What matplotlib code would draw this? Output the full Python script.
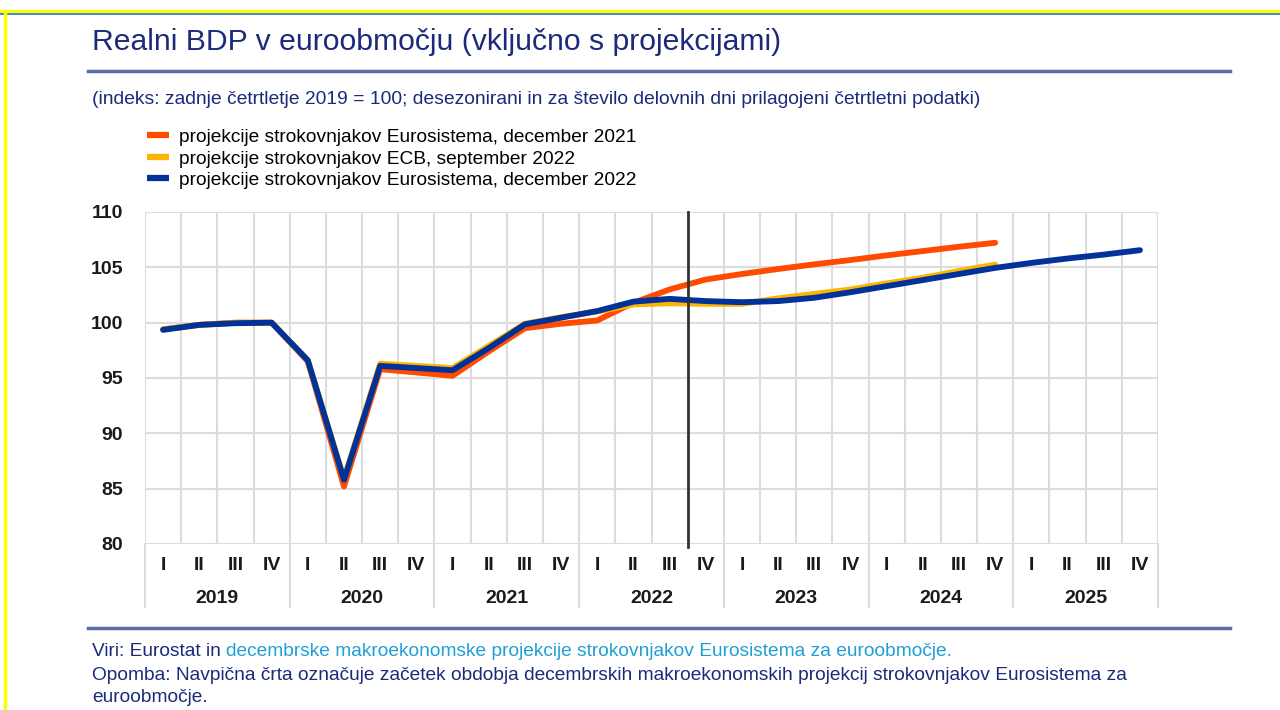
import matplotlib.pyplot as plt
from matplotlib.lines import Line2D

plt.rcParams['font.family'] = ['Liberation Sans', 'DejaVu Sans']

# data: index, zadnje cetrtletje 2019 = 100
years = ['2019', '2020', '2021', '2022', '2023', '2024', '2025']
quarters = ['I', 'II', 'III', 'IV']

dec2021 = [99.4, 99.8, 100.0, 100.0, 96.5, 85.2, 95.8, 95.5, 95.2, 97.4, 99.5, 99.9,
           100.2, 101.8, 103.0, 103.9, 104.4, 104.85, 105.27, 105.66, 106.08, 106.47,
           106.86, 107.22]
sep2022 = [99.4, 99.8, 100.0, 100.0, 96.6, 85.9, 96.3, 96.1, 95.9, 97.9, 99.9, 100.5,
           101.0, 101.65, 101.75, 101.7, 101.7, 102.2, 102.6, 103.0, 103.55, 104.06,
           104.67, 105.25]
dec2022 = [99.35, 99.8, 99.95, 100.0, 96.6, 85.8, 96.1, 95.9, 95.7, 97.7, 99.85, 100.45,
           101.05, 101.9, 102.15, 101.95, 101.85, 101.95, 102.25, 102.75, 103.3, 103.85,
           104.4, 104.95, 105.4, 105.8, 106.15, 106.55]

labels = ['projekcije strokovnjakov Eurosistema, december 2021',
          'projekcije strokovnjakov ECB, september 2022',
          'projekcije strokovnjakov Eurosistema, december 2022']
colors = ['#ff4b00', '#ffb400', '#003299']

navy = '#1b2a7b'
rule = '#5b6ea8'
txt = 13.75

fig = plt.figure(figsize=(12.8, 7.1), dpi=100)
W, H = 1280, 710

def fx(px):
    return px / W

def fy(py):
    return 1 - py / H

# frame
fig.add_artist(Line2D([0, 1], [fy(11), fy(11)], color='#ffff00', lw=2.5))
fig.add_artist(Line2D([0, 1], [fy(14), fy(14)], color='#1e78c8', lw=1.2))
fig.add_artist(Line2D([fx(5), fx(5)], [0, fy(11)], color='#ffff00', lw=2.5))

fig.text(fx(92), fy(42), 'Realni BDP v euroobmočju (vključno s projekcijami)',
         fontsize=21.7, color=navy, va='center')
fig.add_artist(Line2D([fx(88), fx(1230)], [fy(71), fy(71)], color=rule, lw=2.5))
fig.text(fx(92), fy(99),
         '(indeks: zadnje četrtletje 2019 = 100; desezonirani in za število delovnih dni prilagojeni četrtletni podatki)',
         fontsize=13.9, color=navy, va='center')

ax = fig.add_axes([fx(145), fy(544), fx(1158 - 145), (544 - 212) / H])
n = len(years) * 4
x = list(range(n))
for vals, c, lab in zip([dec2021, sep2022, dec2022], colors, labels):
    ax.plot(x[:len(vals)], vals, color=c, lw=4.2, solid_capstyle='round',
            solid_joinstyle='round', label=lab)

ax.axvline(14.5, ymin=-0.01, ymax=1, color='#333333', lw=2, clip_on=False)

ax.set_xlim(-0.5, n - 0.5)
ax.set_ylim(80, 110)
ax.set_yticks(range(80, 111, 5))
ax.set_xticks([i + 0.5 for i in range(-1, n)])
ax.set_xticklabels([])
ax.grid(True, color='#dcdcdc', lw=1.5)
ax.set_axisbelow(True)
for s in ax.spines.values():
    s.set_visible(False)
ax.tick_params(axis='both', length=0, labelsize=14, pad=0, labelcolor='#1a1a1a')
ax.tick_params(axis='y', pad=16)
for t in ax.get_yticklabels():
    t.set_fontweight('bold')

for i in range(n):
    ax.text(i, -0.064, quarters[i % 4], transform=ax.get_xaxis_transform(),
            ha='center', va='center', fontsize=14, fontweight='bold', color='#1a1a1a')
for j, yr in enumerate(years):
    ax.text(j * 4 + 1.5, -0.163, yr, transform=ax.get_xaxis_transform(),
            ha='center', va='center', fontsize=14, fontweight='bold', color='#1a1a1a')
for j in range(len(years) + 1):
    ax.plot([j * 4 - 0.5] * 2, [0, -0.19], transform=ax.get_xaxis_transform(),
            color='#dcdcdc', lw=1.5, clip_on=False)

leg = fig.legend(loc='upper left', bbox_to_anchor=(fx(139), fy(121)), frameon=False,
                 fontsize=txt, handlelength=1.15, handletextpad=0.55,
                 labelspacing=0.22, borderaxespad=0)
for h in leg.get_lines():
    h.set_linewidth(4.5)
    h.set_solid_capstyle('butt')

fig.add_artist(Line2D([fx(88), fx(1230)], [fy(628), fy(628)], color=rule, lw=2.5))
t1 = fig.text(fx(92), fy(652), 'Viri: Eurostat in ', fontsize=txt, color=navy, va='center')
fig.canvas.draw()
bb = t1.get_window_extent()
fig.text(bb.x1 / W, fy(652),
         'decembrske makroekonomske projekcije strokovnjakov Eurosistema za euroobmočje.',
         fontsize=txt, color='#1ea0d6', va='center')
fig.text(fx(92), fy(675),
         'Opomba: Navpična črta označuje začetek obdobja decembrskih makroekonomskih projekcij strokovnjakov Eurosistema za',
         fontsize=txt, color=navy, va='center')
fig.text(fx(92), fy(697), 'euroobmočje.', fontsize=txt, color=navy, va='center')

fig.savefig('out.png', dpi=100)
